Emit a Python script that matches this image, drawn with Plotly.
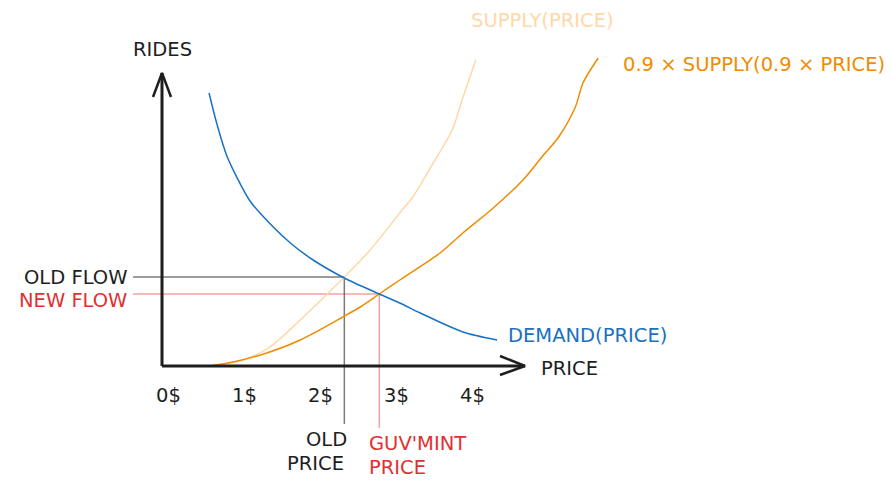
import plotly.graph_objects as go

# ---- data (price in $, rides in arbitrary units) ----
demand_price = [0.54, 0.64, 0.78, 1.07, 1.21, 1.61, 1.91, 2.32, 2.78, 3.05, 3.32, 3.88, 4.33]
demand_rides = [27.3, 24.3, 20.9, 16.6, 15.3, 12.3, 10.6, 8.8, 7.2, 6.3, 5.3, 3.4, 2.6]

supply_price = [0.55, 0.99, 1.34, 1.74, 2.32, 2.66, 3.05, 3.22, 3.49, 3.74, 3.87, 4.05]
supply_rides = [0.0, 0.6, 1.9, 4.6, 8.9, 11.6, 15.3, 16.9, 20.3, 23.6, 26.6, 30.6]

taxed_price = [0.55, 0.86, 1.30, 1.74, 2.30, 2.53, 2.78, 3.05, 3.58, 3.88, 4.28,
               4.67, 4.92, 5.14, 5.36, 5.46, 5.66]
taxed_rides = [0.0, 0.4, 1.3, 2.6, 4.9, 5.9, 7.2, 8.6, 11.3, 13.3, 15.8,
               18.6, 20.9, 22.9, 25.9, 28.3, 30.8]

old_eq = (2.32, 8.9)   # old price, old flow
new_eq = (2.78, 7.2)   # guv'mint price, new flow

tick_values = [0, 1, 2, 3, 4]
tick_labels = ["0$", "1$", "2$", "3$", "4$"]

# ---- style ----
FONT = "DejaVu Sans"
DARK = "#1e1e1e"
BLUE = "#1971c2"
ORANGE = "#f08c00"
LIGHT = "#ffd8a8"
RED = "#e03131"
FS = 19.5

# scale: 76 px per $, 10 px per ride unit, origin at (168, 366) page px
PX_PER_P = 76.0
PX_PER_R = 10.0
PAGE_W, PAGE_H = 892, 491
BODY_MARGIN = 8
W, H = PAGE_W - 2 * BODY_MARGIN, PAGE_H - 2 * BODY_MARGIN
X0, Y0 = 168, 366
xr = [(BODY_MARGIN - X0) / PX_PER_P, (BODY_MARGIN + W - X0) / PX_PER_P]
yr = [(Y0 - BODY_MARGIN - H) / PX_PER_R, (Y0 - BODY_MARGIN) / PX_PER_R]

def dx(px):
    return px / PX_PER_P

def dy(px):
    return px / PX_PER_R

fig = go.Figure()

# guide lines
gx0 = -0.46
fig.add_trace(go.Scatter(x=[gx0, old_eq[0], old_eq[0]], y=[old_eq[1], old_eq[1], -5.8],
                         mode="lines", line=dict(color="rgba(100,100,100,0.85)", width=1.5),
                         hoverinfo="skip"))
fig.add_trace(go.Scatter(x=[gx0, new_eq[0], new_eq[0]], y=[new_eq[1], new_eq[1], -6.2],
                         mode="lines", line=dict(color="rgba(224,49,49,0.45)", width=1.5),
                         hoverinfo="skip"))

# curves
SM = 0.8
fig.add_trace(go.Scatter(x=supply_price, y=supply_rides, mode="lines",
                         line=dict(color=LIGHT, width=1.5, shape="spline", smoothing=SM),
                         hoverinfo="skip"))
fig.add_trace(go.Scatter(x=taxed_price, y=taxed_rides, mode="lines",
                         line=dict(color=ORANGE, width=1.5, shape="spline", smoothing=SM),
                         hoverinfo="skip"))
fig.add_trace(go.Scatter(x=demand_price, y=demand_rides, mode="lines",
                         line=dict(color=BLUE, width=1.5, shape="spline", smoothing=SM),
                         hoverinfo="skip"))

# axes with arrows
ax_x = dx(-6)        # y-axis x position
x_end = dx(525 - X0)
y_top = dy(Y0 - 73)
axis_line = dict(color=DARK, width=3)
fig.add_trace(go.Scatter(x=[ax_x, ax_x], y=[0, y_top], mode="lines", line=axis_line, hoverinfo="skip"))
fig.add_trace(go.Scatter(x=[ax_x - dx(9), ax_x, ax_x + dx(9)], y=[y_top - dy(24), y_top, y_top - dy(24)],
                         mode="lines", line=dict(color=DARK, width=2.5), hoverinfo="skip"))
fig.add_trace(go.Scatter(x=[ax_x, x_end], y=[0, 0], mode="lines", line=axis_line, hoverinfo="skip"))
fig.add_trace(go.Scatter(x=[x_end - dx(25), x_end, x_end - dx(25)], y=[dy(10), 0, -dy(9)],
                         mode="lines", line=dict(color=DARK, width=2.5), hoverinfo="skip"))

ann = []
def text(t, x, y, color=DARK, xanchor="center"):
    ann.append(dict(text=t, x=x, y=y, xref="x", yref="y", showarrow=False,
                    xanchor=xanchor, yanchor="middle",
                    font=dict(family=FONT, size=FS, color=color)))

text("RIDES", ax_x, dy(Y0 - 49))
text("PRICE", dx(539 - X0), dy(Y0 - 368), xanchor="left")
for v, lab in zip(tick_values, tick_labels):
    text(lab, v, dy(Y0 - 395))
text("OLD FLOW", dx(129 - X0), old_eq[1], xanchor="right")
text("NEW FLOW", dx(129 - X0), dy(Y0 - 300), RED, xanchor="right")
text("OLD", dx(349 - X0), dy(Y0 - 439), xanchor="right")
text("PRICE", dx(346 - X0), dy(Y0 - 463), xanchor="right")
text("GUV'MINT", dx(367 - X0), dy(Y0 - 443), RED, xanchor="left")
text("PRICE", dx(367 - X0), dy(Y0 - 467), RED, xanchor="left")
text("DEMAND(PRICE)", dx(506 - X0), dy(Y0 - 335), BLUE, xanchor="left")
text("SUPPLY(PRICE)", dx(469 - X0), dy(Y0 - 20), LIGHT, xanchor="left")
text("0.9 × SUPPLY(0.9 × PRICE)", dx(621 - X0), dy(Y0 - 64), ORANGE, xanchor="left")

fig.update_layout(
    width=W, height=H, margin=dict(l=0, r=0, t=0, b=0),
    paper_bgcolor="white", plot_bgcolor="white", showlegend=False,
    xaxis=dict(range=xr, visible=False, fixedrange=True),
    yaxis=dict(range=yr, visible=False, fixedrange=True),
    annotations=ann,
)

fig.write_html("out.html")
